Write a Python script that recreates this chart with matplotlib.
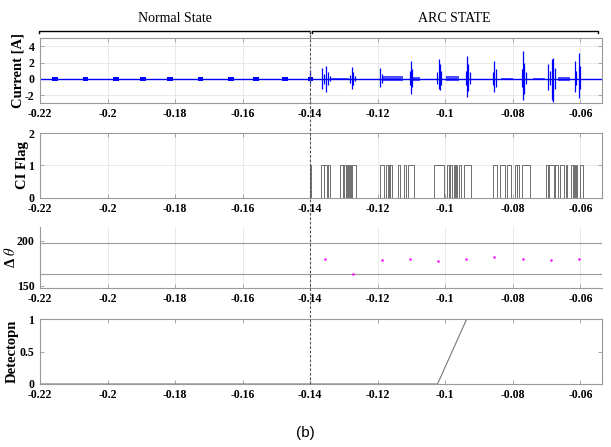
import numpy as np
import matplotlib.pyplot as plt
from matplotlib.lines import Line2D
from matplotlib.transforms import blended_transform_factory

plt.rcParams['font.family'] = ['Liberation Serif', 'DejaVu Serif']
plt.rcParams['mathtext.fontset'] = 'stix'

# common x axis
x_min, x_max = -0.22, -0.0537
arc_start = -0.14
xticks = [-0.22, -0.2, -0.18, -0.16, -0.14, -0.12, -0.1, -0.08, -0.06]
xtick_labels = ['-0.22', '-0.2', '-0.18', '-0.16', '-0.14', '-0.12', '-0.1', '-0.08', '-0.06']

# current: small blips in normal state
normal_t = [-0.2155, -0.2065, -0.1975, -0.1895, -0.1815, -0.1725, -0.1635, -0.1560, -0.1475, -0.1400]
normal_amp = [0.2, 0.2, 0.25, 0.2, 0.2, 0.2, 0.25, 0.2, 0.2, 0.25]

# current: arc spikes (time, top, bottom)
spike_t = [-0.1400, -0.1365, -0.1360, -0.1353, -0.1348, -0.1342,
           -0.1282, -0.1276, -0.1272, -0.1268,
           -0.1193, -0.1188,
           -0.1106, -0.1102, -0.1098,
           -0.1025, -0.1020, -0.1016, -0.1012,
           -0.0940, -0.0936, -0.0932, -0.0928,
           -0.0858, -0.0855, -0.0851,
           -0.0774, -0.0770, -0.0766, -0.0762,
           -0.0695, -0.0690, -0.0684, -0.0680, -0.0676,
           -0.0617, -0.0612, -0.0604, -0.0600]
spike_hi = [1.1, 1.3, 0.6, 1.6, 0.8, 0.4,
            0.5, 1.5, 0.9, 0.4,
            1.3, 0.6,
            1.0, 2.2, 1.2,
            0.8, 2.4, 1.8, 1.0,
            1.0, 2.8, 1.8, 0.8,
            0.9, 2.2, 1.2,
            1.2, 3.4, 2.0, 0.8,
            1.8, 1.0, 2.4, 2.6, 1.4,
            2.2, 1.0, 3.2, 1.6]
spike_lo = [-0.5, -1.2, -0.6, -1.6, -0.7, -0.3,
            -0.5, -1.3, -0.8, -0.3,
            -1.0, -0.5,
            -0.8, -1.8, -1.0,
            -0.6, -1.2, -1.4, -0.8,
            -0.8, -2.2, -1.5, -0.6,
            -0.8, -1.6, -1.0,
            -1.0, -2.6, -1.8, -0.6,
            -1.4, -0.8, -2.6, -2.8, -1.2,
            -1.6, -0.8, -2.4, -1.2]

# current: low level noise bands (start, end, amplitude)
band_start = [-0.1340, -0.1185, -0.1095, -0.1000, -0.0835, -0.0740, -0.0665]
band_end = [-0.1285, -0.1125, -0.1075, -0.0960, -0.0800, -0.0705, -0.0630]
band_amp = [0.15, 0.3, 0.2, 0.3, 0.15, 0.12, 0.25]

# CI flag pulses (rise, fall)
ci_rise = [-0.1400, -0.1368, -0.1358, -0.1346, -0.1311, -0.1301, -0.1293, -0.1288, -0.1283, -0.1276,
           -0.1193, -0.1177, -0.1167, -0.1163, -0.1141, -0.1123, -0.1109,
           -0.1034, -0.0995, -0.0987, -0.0975, -0.0969, -0.0960, -0.0945,
           -0.0859, -0.0839, -0.0817, -0.0795, -0.0787, -0.0773,
           -0.0703, -0.0692, -0.0674, -0.0659, -0.0644, -0.0629, -0.0619, -0.0614, -0.0600]
ci_fall = [-0.1398, -0.1360, -0.1351, -0.1341, -0.1303, -0.1295, -0.1290, -0.1285, -0.1280, -0.1264,
           -0.1183, -0.1171, -0.1165, -0.1158, -0.1133, -0.1115, -0.1092,
           -0.1005, -0.0990, -0.0980, -0.0972, -0.0965, -0.0955, -0.0924,
           -0.0847, -0.0823, -0.0807, -0.0789, -0.0781, -0.0748,
           -0.0697, -0.0679, -0.0667, -0.0649, -0.0639, -0.0621, -0.0616, -0.0609, -0.0592]

# delta theta
theta_t = [-0.1355, -0.1272, -0.1188, -0.1105, -0.1022, -0.0938, -0.0855, -0.0771, -0.0688, -0.0604]
theta_v = [179.5, 163.5, 178.5, 179.5, 178, 179.5, 181.5, 179.5, 178.5, 179.5]
theta_limits = [162.5, 197]

# detection output
det_t = [-0.22, -0.1023, -0.0937, -0.0537]
det_v = [0, 0, 1, 1]

fig = plt.figure(figsize=(6.11, 4.47), dpi=100)
W, H = 611, 447


def add_ax(top, bottom):
    return fig.add_axes([40 / W, 1 - bottom / H, 561.7 / W, (bottom - top) / H])


def style(ax, yticks, ylabels):
    ax.set_xlim(x_min, x_max)
    ax.set_xticks(xticks)
    ax.set_xticklabels(xtick_labels)
    ax.set_yticks(yticks)
    ax.set_yticklabels(ylabels)
    ax.tick_params(direction='in', top=True, right=True, length=3, width=0.6,
                   color='#999999', labelsize=8.5, pad=4)
    ax.tick_params(axis='x', pad=3.5)
    for lab in ax.get_xticklabels() + ax.get_yticklabels():
        lab.set_fontweight('bold')
    for s in ax.spines.values():
        s.set_color('#999999')
        s.set_linewidth(0.8)


ax1 = add_ax(38.3, 103.3)
ax2 = add_ax(133, 197.7)
ax3 = add_ax(226.7, 288)
ax4 = add_ax(319.3, 384)

# current
ax1.plot([x_min, x_max], [0, 0], color='#0000ff', lw=1.0)
for t, amp in zip(normal_t, normal_amp):
    ax1.fill_between([t - 0.0008, t + 0.0008], [-amp, -amp], [amp, amp], color='#0000ff', lw=0)
for a, b, amp in zip(band_start, band_end, band_amp):
    ax1.fill_between([a, b], [-amp, -amp], [amp, amp], color='#3030ff', alpha=0.85, lw=0)
ax1.vlines(spike_t, spike_lo, spike_hi, color='#0000ff', lw=0.9)
ax1.set_ylim(-3, 5)
style(ax1, [-2, 0, 2, 4], ['-2', '0', '2', '4'])
ax1.grid(color='#e6e6e6', lw=0.6)
ax1.set_ylabel('Current [A]', fontsize=10.5, fontweight='bold')
ax1.yaxis.set_label_coords(-0.028, 0.5)

# CI flag
flag_t = [x_min]
flag_v = [0]
for a, b in zip(ci_rise, ci_fall):
    flag_t += [a, b]
    flag_v += [1, 0]
flag_t.append(x_max)
flag_v.append(0)
ax2.step(flag_t, flag_v, where='post', color='#6e6e6e', lw=0.7)
ax2.set_ylim(0, 2)
style(ax2, [0, 1, 2], ['0', '1', '2'])
ax2.grid(color='#e6e6e6', lw=0.6)
ax2.set_ylabel('CI Flag', fontsize=10.5, fontweight='bold')
ax2.yaxis.set_label_coords(-0.02, 0.5)

# delta theta
for lim in theta_limits:
    ax3.axhline(lim, color='#9a9a9a', lw=0.8)
ax3.plot(theta_t, theta_v, 'o', color='#ff00ff', ms=1.8, mec='none')
ax3.set_ylim(147.5, 215.5)
style(ax3, [150, 200], ['150', '200'])
ax3.tick_params(top=False, right=False)
ax3.spines['top'].set_visible(False)
ax3.spines['right'].set_visible(False)
ax3.grid(axis='x', color='#e6e6e6', lw=0.6)
ax3.set_ylabel('Δ $\\theta$', fontsize=10.5, fontweight='bold')
ax3.yaxis.set_label_coords(-0.039, 0.5)

# detection
ax4.plot(det_t, det_v, color='#777777', lw=0.8)
ax4.set_ylim(0, 1)
style(ax4, [0, 0.5, 1], ['0', '0.5', '1'])
ax4.set_ylabel('Detectopn', fontsize=10.5, fontweight='bold')
ax4.yaxis.set_label_coords(-0.038, 0.5)

# dashed line marking arc start, through all panels
tr = blended_transform_factory(ax4.transData, fig.transFigure)
fig.add_artist(Line2D([arc_start, arc_start], [1 - 384 / H, 1 - 30 / H], transform=tr,
                      color='#555555', lw=0.8, ls=(0, (2.5, 1.5))))

# state brackets
tb = blended_transform_factory(ax1.transData, ax1.transAxes)
yb, yd = 1.117, 1.085
ax1.plot([-0.2203, -0.2203, -0.1402, -0.1402], [yd, yb, yb, yd], transform=tb,
         color='black', lw=1.0, clip_on=False)
ax1.plot([-0.1396, -0.1396, -0.0548, -0.0548], [yd, yb, yb, yd], transform=tb,
         color='black', lw=1.0, clip_on=False)
ax1.text(-0.18, 1.31, 'Normal State', transform=tb, ha='center', va='center', fontsize=10)
ax1.text(-0.0974, 1.31, 'ARC STATE', transform=tb, ha='center', va='center', fontsize=10)

fig.text(305 / W, 1 - 433 / H, '(b)', ha='center', va='center', fontsize=11,
         family=['Liberation Sans', 'DejaVu Sans'])

plt.savefig('out.png', dpi=100)
